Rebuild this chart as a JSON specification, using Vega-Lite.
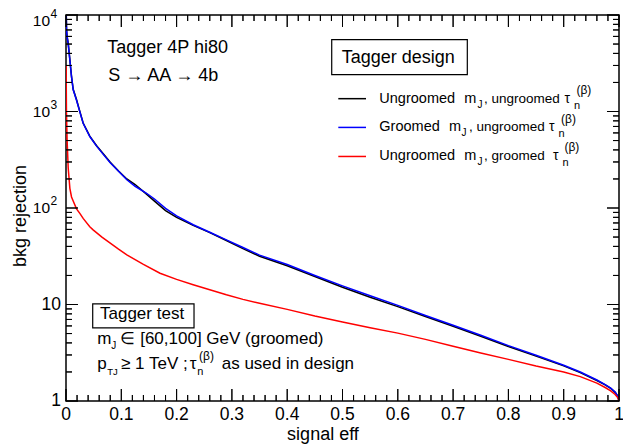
{
"$schema": "https://vega.github.io/schema/vega-lite/v6.json",
"width": 553, "height": 386,
"autosize": "none",
"padding": {"left": 66, "top": 15, "right": 4, "bottom": 47},
"config": {
  "font": "Liberation Sans",
  "view": {"stroke": "black", "strokeWidth": 1.5},
  "text": {"font": "Liberation Sans", "color": "black"},
  "rule": {"color": "black", "strokeWidth": 1},
  "tick": {"color": "black", "opacity": 1, "thickness": 1}
},
"datasets": {
  "xmajor": [{"v":0},{"v":0.1},{"v":0.2},{"v":0.3},{"v":0.4},{"v":0.5},{"v":0.6},{"v":0.7},{"v":0.8},{"v":0.9},{"v":1}],
  "xminor": [{"v":0.02},{"v":0.04},{"v":0.06},{"v":0.08},{"v":0.12},{"v":0.14},{"v":0.16},{"v":0.18},{"v":0.22},{"v":0.24},{"v":0.26},{"v":0.28},{"v":0.32},{"v":0.34},{"v":0.36},{"v":0.38},{"v":0.42},{"v":0.44},{"v":0.46},{"v":0.48},{"v":0.52},{"v":0.54},{"v":0.56},{"v":0.58},{"v":0.62},{"v":0.64},{"v":0.66},{"v":0.68},{"v":0.72},{"v":0.74},{"v":0.76},{"v":0.78},{"v":0.82},{"v":0.84},{"v":0.86},{"v":0.88},{"v":0.92},{"v":0.94},{"v":0.96},{"v":0.98}],
  "ymajor": [{"v":1},{"v":10},{"v":100},{"v":1000},{"v":10000}],
  "yminor": [{"v":2},{"v":3},{"v":4},{"v":5},{"v":6},{"v":7},{"v":8},{"v":9},{"v":20},{"v":30},{"v":40},{"v":50},{"v":60},{"v":70},{"v":80},{"v":90},{"v":200},{"v":300},{"v":400},{"v":500},{"v":600},{"v":700},{"v":800},{"v":900},{"v":2000},{"v":3000},{"v":4000},{"v":5000},{"v":6000},{"v":7000},{"v":8000},{"v":9000}],
  "ylabplain": [{"v":1,"lab":"1"},{"v":10,"lab":"10"}],
  "ylabexp": [{"v":100,"e":"2"},{"v":1000,"e":"3"}],
  "ylabtop": [{"v":10000,"e":"4"}]
},
"data": {"values": [
{"c":"uu","x":0.0005,"y":9800},{"c":"uu","x":0.001,"y":7000},{"c":"uu","x":0.002,"y":6000},{"c":"uu","x":0.004,"y":5100},{"c":"uu","x":0.007,"y":3450},{"c":"uu","x":0.01,"y":2300},{"c":"uu","x":0.013,"y":1700},{"c":"uu","x":0.019,"y":1330},{"c":"uu","x":0.024,"y":1050},{"c":"uu","x":0.031,"y":760},{"c":"uu","x":0.043,"y":555},{"c":"uu","x":0.055,"y":445},{"c":"uu","x":0.07,"y":350},{"c":"uu","x":0.08,"y":298},{"c":"uu","x":0.095,"y":242},{"c":"uu","x":0.11,"y":200},{"c":"uu","x":0.125,"y":175},{"c":"uu","x":0.145,"y":140},{"c":"uu","x":0.16,"y":118},{"c":"uu","x":0.18,"y":94},{"c":"uu","x":0.2,"y":80},{"c":"uu","x":0.23,"y":66},{"c":"uu","x":0.26,"y":55.5},{"c":"uu","x":0.29,"y":46},{"c":"uu","x":0.32,"y":38},{"c":"uu","x":0.35,"y":31.6},{"c":"uu","x":0.4,"y":25.2},{"c":"uu","x":0.45,"y":19.5},{"c":"uu","x":0.5,"y":15.1},{"c":"uu","x":0.55,"y":11.9},{"c":"uu","x":0.6,"y":9.5},{"c":"uu","x":0.65,"y":7.5},{"c":"uu","x":0.7,"y":5.95},{"c":"uu","x":0.75,"y":4.68},{"c":"uu","x":0.8,"y":3.67},{"c":"uu","x":0.85,"y":2.92},{"c":"uu","x":0.9,"y":2.31},{"c":"uu","x":0.93,"y":1.97},{"c":"uu","x":0.96,"y":1.63},{"c":"uu","x":0.975,"y":1.47},{"c":"uu","x":0.985,"y":1.35},{"c":"uu","x":0.993,"y":1.23},{"c":"uu","x":0.998,"y":1.12},{"c":"uu","x":1,"y":1},
{"c":"gu","x":0.0005,"y":9800},{"c":"gu","x":0.001,"y":7000},{"c":"gu","x":0.002,"y":5900},{"c":"gu","x":0.004,"y":5000},{"c":"gu","x":0.007,"y":3400},{"c":"gu","x":0.01,"y":2280},{"c":"gu","x":0.013,"y":1680},{"c":"gu","x":0.019,"y":1310},{"c":"gu","x":0.024,"y":1040},{"c":"gu","x":0.031,"y":755},{"c":"gu","x":0.043,"y":550},{"c":"gu","x":0.055,"y":440},{"c":"gu","x":0.07,"y":345},{"c":"gu","x":0.08,"y":295},{"c":"gu","x":0.095,"y":240},{"c":"gu","x":0.11,"y":196},{"c":"gu","x":0.125,"y":168},{"c":"gu","x":0.145,"y":143},{"c":"gu","x":0.16,"y":124},{"c":"gu","x":0.18,"y":99},{"c":"gu","x":0.2,"y":83},{"c":"gu","x":0.23,"y":67},{"c":"gu","x":0.26,"y":56},{"c":"gu","x":0.29,"y":46.8},{"c":"gu","x":0.32,"y":39},{"c":"gu","x":0.35,"y":32.5},{"c":"gu","x":0.4,"y":26},{"c":"gu","x":0.45,"y":20},{"c":"gu","x":0.5,"y":15.6},{"c":"gu","x":0.55,"y":12.3},{"c":"gu","x":0.6,"y":9.8},{"c":"gu","x":0.65,"y":7.7},{"c":"gu","x":0.7,"y":6.1},{"c":"gu","x":0.75,"y":4.8},{"c":"gu","x":0.8,"y":3.75},{"c":"gu","x":0.85,"y":2.98},{"c":"gu","x":0.9,"y":2.35},{"c":"gu","x":0.93,"y":2.0},{"c":"gu","x":0.96,"y":1.65},{"c":"gu","x":0.975,"y":1.48},{"c":"gu","x":0.985,"y":1.36},{"c":"gu","x":0.993,"y":1.24},{"c":"gu","x":0.998,"y":1.12},{"c":"gu","x":1,"y":1},
{"c":"ug","x":0.0002,"y":3000},{"c":"ug","x":0.0008,"y":1000},{"c":"ug","x":0.002,"y":500},{"c":"ug","x":0.004,"y":260},{"c":"ug","x":0.007,"y":160},{"c":"ug","x":0.01,"y":130},{"c":"ug","x":0.013,"y":118},{"c":"ug","x":0.019,"y":98},{"c":"ug","x":0.025,"y":88},{"c":"ug","x":0.031,"y":78},{"c":"ug","x":0.043,"y":64},{"c":"ug","x":0.049,"y":59.4},{"c":"ug","x":0.065,"y":50},{"c":"ug","x":0.08,"y":43.3},{"c":"ug","x":0.095,"y":37.5},{"c":"ug","x":0.11,"y":32.7},{"c":"ug","x":0.14,"y":26},{"c":"ug","x":0.17,"y":21.1},{"c":"ug","x":0.2,"y":18.2},{"c":"ug","x":0.23,"y":16},{"c":"ug","x":0.26,"y":14.2},{"c":"ug","x":0.29,"y":12.6},{"c":"ug","x":0.32,"y":11.3},{"c":"ug","x":0.35,"y":10.3},{"c":"ug","x":0.4,"y":8.9},{"c":"ug","x":0.45,"y":7.6},{"c":"ug","x":0.5,"y":6.6},{"c":"ug","x":0.55,"y":5.75},{"c":"ug","x":0.6,"y":5.05},{"c":"ug","x":0.65,"y":4.35},{"c":"ug","x":0.7,"y":3.7},{"c":"ug","x":0.75,"y":3.15},{"c":"ug","x":0.8,"y":2.7},{"c":"ug","x":0.85,"y":2.3},{"c":"ug","x":0.9,"y":2.0},{"c":"ug","x":0.93,"y":1.79},{"c":"ug","x":0.96,"y":1.53},{"c":"ug","x":0.975,"y":1.38},{"c":"ug","x":0.985,"y":1.27},{"c":"ug","x":0.993,"y":1.17},{"c":"ug","x":0.998,"y":1.08},{"c":"ug","x":1,"y":1}
]},
"layer": [
{"mark": {"type": "line", "strokeWidth": 1.5, "clip": true},
 "encoding": {
  "x": {"field": "x", "type": "quantitative", "title": "signal eff", "scale": {"domain": [0, 1], "nice": false, "zero": false}, "axis": null},
  "y": {"field": "y", "type": "quantitative", "title": "bkg rejection", "scale": {"type": "log", "domain": [1, 10000], "nice": false}, "axis": null},
  "color": {"field": "c", "type": "nominal", "scale": {"domain": ["uu","gu","ug"], "range": ["#000000","#0000ff","#ff0000"]}, "legend": null}
 }},
{"data": {"name": "xmajor"}, "mark": {"type": "tick", "orient": "vertical", "size": 12},
 "encoding": {"x": {"field": "v", "type": "quantitative", "axis": null}, "y": {"datum": 1.154, "type": "quantitative", "axis": null}}},
{"data": {"name": "xmajor"}, "mark": {"type": "tick", "orient": "vertical", "size": 12},
 "encoding": {"x": {"field": "v", "type": "quantitative", "axis": null}, "y": {"datum": 8665, "type": "quantitative", "axis": null}}},
{"data": {"name": "xminor"}, "mark": {"type": "tick", "orient": "vertical", "size": 6},
 "encoding": {"x": {"field": "v", "type": "quantitative", "axis": null}, "y": {"datum": 1.074, "type": "quantitative", "axis": null}}},
{"data": {"name": "xminor"}, "mark": {"type": "tick", "orient": "vertical", "size": 6},
 "encoding": {"x": {"field": "v", "type": "quantitative", "axis": null}, "y": {"datum": 9309, "type": "quantitative", "axis": null}}},
{"data": {"name": "ymajor"}, "mark": {"type": "tick", "orient": "horizontal", "size": 12},
 "encoding": {"y": {"field": "v", "type": "quantitative", "axis": null}, "x": {"datum": 0.01085, "type": "quantitative", "axis": null}}},
{"data": {"name": "ymajor"}, "mark": {"type": "tick", "orient": "horizontal", "size": 12},
 "encoding": {"y": {"field": "v", "type": "quantitative", "axis": null}, "x": {"datum": 0.98915, "type": "quantitative", "axis": null}}},
{"data": {"name": "yminor"}, "mark": {"type": "tick", "orient": "horizontal", "size": 6},
 "encoding": {"y": {"field": "v", "type": "quantitative", "axis": null}, "x": {"datum": 0.00542, "type": "quantitative", "axis": null}}},
{"data": {"name": "yminor"}, "mark": {"type": "tick", "orient": "horizontal", "size": 6},
 "encoding": {"y": {"field": "v", "type": "quantitative", "axis": null}, "x": {"datum": 0.99458, "type": "quantitative", "axis": null}}},
{"data": {"name": "xmajor"}, "mark": "rule", "encoding": {"x": {"field": "v", "type": "quantitative", "axis": null}, "y": {"datum": 1, "type": "quantitative", "axis": null}, "y2": {"datum": 1.331}}},
{"data": {"name": "xmajor"}, "mark": "rule", "encoding": {"x": {"field": "v", "type": "quantitative", "axis": null}, "y": {"datum": 10000, "type": "quantitative", "axis": null}, "y2": {"datum": 7509}}},
{"data": {"name": "xminor"}, "mark": "rule", "encoding": {"x": {"field": "v", "type": "quantitative", "axis": null}, "y": {"datum": 1, "type": "quantitative", "axis": null}, "y2": {"datum": 1.154}}},
{"data": {"name": "xminor"}, "mark": "rule", "encoding": {"x": {"field": "v", "type": "quantitative", "axis": null}, "y": {"datum": 10000, "type": "quantitative", "axis": null}, "y2": {"datum": 8665}}},
{"data": {"name": "ymajor"}, "mark": "rule", "encoding": {"y": {"field": "v", "type": "quantitative", "axis": null}, "x": {"datum": 0, "type": "quantitative", "axis": null}, "x2": {"datum": 0.0217}}},
{"data": {"name": "ymajor"}, "mark": "rule", "encoding": {"y": {"field": "v", "type": "quantitative", "axis": null}, "x": {"datum": 1, "type": "quantitative", "axis": null}, "x2": {"datum": 0.9783}}},
{"data": {"name": "yminor"}, "mark": "rule", "encoding": {"y": {"field": "v", "type": "quantitative", "axis": null}, "x": {"datum": 0, "type": "quantitative", "axis": null}, "x2": {"datum": 0.0108}}},
{"data": {"name": "yminor"}, "mark": "rule", "encoding": {"y": {"field": "v", "type": "quantitative", "axis": null}, "x": {"datum": 1, "type": "quantitative", "axis": null}, "x2": {"datum": 0.9892}}},

{"data": {"name": "xmajor"}, "mark": {"type": "text", "align": "center", "baseline": "alphabetic", "fontSize": 17.5},
 "encoding": {"x": {"field": "v", "type": "quantitative", "axis": null}, "y": {"datum": 0.628, "type": "quantitative", "axis": null}, "text": {"field": "v", "type": "quantitative", "format": "~g"}}},
{"data": {"name": "ylabplain"}, "mark": {"type": "text", "align": "right", "baseline": "middle", "fontSize": 17.5},
 "encoding": {"y": {"field": "v", "type": "quantitative", "axis": null}, "x": {"datum": -0.009, "type": "quantitative", "axis": null}, "text": {"field": "lab"}}},
{"data": {"name": "ylabexp"}, "mark": {"type": "text", "align": "right", "baseline": "middle", "fontSize": 15.5},
 "encoding": {"y": {"field": "v", "type": "quantitative", "axis": null}, "x": {"datum": -0.0289, "type": "quantitative", "axis": null}, "text": {"value": "10"}}},
{"data": {"name": "ylabexp"}, "mark": {"type": "text", "align": "left", "baseline": "middle", "fontSize": 12, "dx": 0.5, "dy": -7},
 "encoding": {"y": {"field": "v", "type": "quantitative", "axis": null}, "x": {"datum": -0.0289, "type": "quantitative", "axis": null}, "text": {"field": "e"}}},
{"data": {"name": "ylabtop"}, "mark": {"type": "text", "align": "right", "baseline": "middle", "fontSize": 15.5, "dy": 6},
 "encoding": {"y": {"field": "v", "type": "quantitative", "axis": null}, "x": {"datum": -0.0289, "type": "quantitative", "axis": null}, "text": {"value": "10"}}},
{"data": {"name": "ylabtop"}, "mark": {"type": "text", "align": "left", "baseline": "middle", "fontSize": 12, "dx": 0.5, "dy": -1},
 "encoding": {"y": {"field": "v", "type": "quantitative", "axis": null}, "x": {"datum": -0.0289, "type": "quantitative", "axis": null}, "text": {"field": "e"}}},
{"data": {"values": [{"t": "signal eff"}]}, "mark": {"type": "text", "align": "center", "baseline": "alphabetic", "fontSize": 18},
 "encoding": {"x": {"datum": 0.4647, "type": "quantitative", "axis": null}, "y": {"datum": 0.3944, "type": "quantitative", "axis": null}, "text": {"field": "t"}}},
{"data": {"values": [{"t": "bkg rejection"}]}, "mark": {"type": "text", "align": "center", "baseline": "alphabetic", "fontSize": 18, "angle": 270},
 "encoding": {"x": {"datum": -0.0727, "type": "quantitative", "axis": null}, "y": {"datum": 82.6, "type": "quantitative", "axis": null}, "text": {"field": "t"}}},

{"data": {"values": [{"t": "Tagger 4P hi80"}]}, "mark": {"type": "text", "align": "left", "baseline": "alphabetic", "fontSize": 18},
 "encoding": {"x": {"datum": 0.0747, "type": "quantitative", "axis": null}, "y": {"datum": 4045, "type": "quantitative", "axis": null}, "text": {"field": "t"}}},
{"data": {"values": [{"t": "S → AA → 4b"}]}, "mark": {"type": "text", "align": "left", "baseline": "alphabetic", "fontSize": 18},
 "encoding": {"x": {"datum": 0.0765, "type": "quantitative", "axis": null}, "y": {"datum": 2087, "type": "quantitative", "axis": null}, "text": {"field": "t"}}},
{"data": {"values": [{"t": "box"}]}, "mark": {"type": "rect", "fill": "white", "fillOpacity": 0, "stroke": "black", "strokeWidth": 1.2},
 "encoding": {"x": {"datum": 0.4805, "type": "quantitative", "axis": null}, "x2": {"datum": 0.7257}, "y": {"datum": 5555, "type": "quantitative", "axis": null}, "y2": {"datum": 2408}}},
{"data": {"values": [{"t": "Tagger design"}]}, "mark": {"type": "text", "align": "left", "baseline": "alphabetic", "fontSize": 18},
 "encoding": {"x": {"datum": 0.4986, "type": "quantitative", "axis": null}, "y": {"datum": 3185, "type": "quantitative", "axis": null}, "text": {"field": "t"}}},
{"data": {"values": [{"t": "uu"}]}, "mark": {"type": "rule", "color": "#000000", "strokeWidth": 1.5},
 "encoding": {"x": {"datum": 0.4924, "type": "quantitative", "axis": null}, "x2": {"datum": 0.5425}, "y": {"datum": 1358, "type": "quantitative", "axis": null}}},
{"data": {"values": [{"t": "gu"}]}, "mark": {"type": "rule", "color": "#0000ff", "strokeWidth": 1.5},
 "encoding": {"x": {"datum": 0.4924, "type": "quantitative", "axis": null}, "x2": {"datum": 0.5425}, "y": {"datum": 684, "type": "quantitative", "axis": null}}},
{"data": {"values": [{"t": "ug"}]}, "mark": {"type": "rule", "color": "#ff0000", "strokeWidth": 1.5},
 "encoding": {"x": {"datum": 0.4924, "type": "quantitative", "axis": null}, "x2": {"datum": 0.5425}, "y": {"datum": 342, "type": "quantitative", "axis": null}}},

{"data": {"values": [{"t": "Ungroomed"}]}, "mark": {"type": "text", "align": "left", "baseline": "alphabetic", "fontSize": 14.5},
 "encoding": {"x": {"datum": 0.5666, "type": "quantitative", "axis": null}, "y": {"datum": 1225, "type": "quantitative", "axis": null}, "text": {"field": "t"}}},
{"data": {"values": [{"t": "m"}]}, "mark": {"type": "text", "align": "left", "baseline": "alphabetic", "fontSize": 14.5},
 "encoding": {"x": {"datum": 0.7203, "type": "quantitative", "axis": null}, "y": {"datum": 1225, "type": "quantitative", "axis": null}, "text": {"field": "t"}}},
{"data": {"values": [{"t": "J"}]}, "mark": {"type": "text", "align": "left", "baseline": "alphabetic", "fontSize": 10, "dy": 5},
 "encoding": {"x": {"datum": 0.7441, "type": "quantitative", "axis": null}, "y": {"datum": 1225, "type": "quantitative", "axis": null}, "text": {"field": "t"}}},
{"data": {"values": [{"t": ", ungroomed"}]}, "mark": {"type": "text", "align": "left", "baseline": "alphabetic", "fontSize": 13.5},
 "encoding": {"x": {"datum": 0.7559, "type": "quantitative", "axis": null}, "y": {"datum": 1225, "type": "quantitative", "axis": null}, "text": {"field": "t"}}},
{"data": {"values": [{"t": "τ"}]}, "mark": {"type": "text", "align": "left", "baseline": "alphabetic", "fontSize": 14},
 "encoding": {"x": {"datum": 0.9014, "type": "quantitative", "axis": null}, "y": {"datum": 1225, "type": "quantitative", "axis": null}, "text": {"field": "t"}}},
{"data": {"values": [{"t": "n"}]}, "mark": {"type": "text", "align": "left", "baseline": "alphabetic", "fontSize": 11, "dy": 6},
 "encoding": {"x": {"datum": 0.9186, "type": "quantitative", "axis": null}, "y": {"datum": 1225, "type": "quantitative", "axis": null}, "text": {"field": "t"}}},
{"data": {"values": [{"t": "(β)"}]}, "mark": {"type": "text", "align": "left", "baseline": "alphabetic", "fontSize": 12, "dy": -8.5},
 "encoding": {"x": {"datum": 0.9231, "type": "quantitative", "axis": null}, "y": {"datum": 1225, "type": "quantitative", "axis": null}, "text": {"field": "t"}}},

{"data": {"values": [{"t": "Groomed"}]}, "mark": {"type": "text", "align": "left", "baseline": "alphabetic", "fontSize": 14.5},
 "encoding": {"x": {"datum": 0.5666, "type": "quantitative", "axis": null}, "y": {"datum": 622, "type": "quantitative", "axis": null}, "text": {"field": "t"}}},
{"data": {"values": [{"t": "m"}]}, "mark": {"type": "text", "align": "left", "baseline": "alphabetic", "fontSize": 14.5},
 "encoding": {"x": {"datum": 0.6926, "type": "quantitative", "axis": null}, "y": {"datum": 622, "type": "quantitative", "axis": null}, "text": {"field": "t"}}},
{"data": {"values": [{"t": "J"}]}, "mark": {"type": "text", "align": "left", "baseline": "alphabetic", "fontSize": 10, "dy": 5},
 "encoding": {"x": {"datum": 0.7152, "type": "quantitative", "axis": null}, "y": {"datum": 622, "type": "quantitative", "axis": null}, "text": {"field": "t"}}},
{"data": {"values": [{"t": ", ungroomed"}]}, "mark": {"type": "text", "align": "left", "baseline": "alphabetic", "fontSize": 13.5},
 "encoding": {"x": {"datum": 0.7288, "type": "quantitative", "axis": null}, "y": {"datum": 622, "type": "quantitative", "axis": null}, "text": {"field": "t"}}},
{"data": {"values": [{"t": "τ"}]}, "mark": {"type": "text", "align": "left", "baseline": "alphabetic", "fontSize": 14},
 "encoding": {"x": {"datum": 0.8735, "type": "quantitative", "axis": null}, "y": {"datum": 622, "type": "quantitative", "axis": null}, "text": {"field": "t"}}},
{"data": {"values": [{"t": "n"}]}, "mark": {"type": "text", "align": "left", "baseline": "alphabetic", "fontSize": 11, "dy": 6},
 "encoding": {"x": {"datum": 0.8907, "type": "quantitative", "axis": null}, "y": {"datum": 622, "type": "quantitative", "axis": null}, "text": {"field": "t"}}},
{"data": {"values": [{"t": "(β)"}]}, "mark": {"type": "text", "align": "left", "baseline": "alphabetic", "fontSize": 12, "dy": -8.5},
 "encoding": {"x": {"datum": 0.8952, "type": "quantitative", "axis": null}, "y": {"datum": 622, "type": "quantitative", "axis": null}, "text": {"field": "t"}}},

{"data": {"values": [{"t": "Ungroomed"}]}, "mark": {"type": "text", "align": "left", "baseline": "alphabetic", "fontSize": 14.5},
 "encoding": {"x": {"datum": 0.5666, "type": "quantitative", "axis": null}, "y": {"datum": 316, "type": "quantitative", "axis": null}, "text": {"field": "t"}}},
{"data": {"values": [{"t": "m"}]}, "mark": {"type": "text", "align": "left", "baseline": "alphabetic", "fontSize": 14.5},
 "encoding": {"x": {"datum": 0.7203, "type": "quantitative", "axis": null}, "y": {"datum": 316, "type": "quantitative", "axis": null}, "text": {"field": "t"}}},
{"data": {"values": [{"t": "J"}]}, "mark": {"type": "text", "align": "left", "baseline": "alphabetic", "fontSize": 10, "dy": 5},
 "encoding": {"x": {"datum": 0.7441, "type": "quantitative", "axis": null}, "y": {"datum": 316, "type": "quantitative", "axis": null}, "text": {"field": "t"}}},
{"data": {"values": [{"t": ", groomed"}]}, "mark": {"type": "text", "align": "left", "baseline": "alphabetic", "fontSize": 13.5},
 "encoding": {"x": {"datum": 0.7559, "type": "quantitative", "axis": null}, "y": {"datum": 316, "type": "quantitative", "axis": null}, "text": {"field": "t"}}},
{"data": {"values": [{"t": "τ"}]}, "mark": {"type": "text", "align": "left", "baseline": "alphabetic", "fontSize": 14},
 "encoding": {"x": {"datum": 0.8807, "type": "quantitative", "axis": null}, "y": {"datum": 316, "type": "quantitative", "axis": null}, "text": {"field": "t"}}},
{"data": {"values": [{"t": "n"}]}, "mark": {"type": "text", "align": "left", "baseline": "alphabetic", "fontSize": 11, "dy": 6},
 "encoding": {"x": {"datum": 0.8979, "type": "quantitative", "axis": null}, "y": {"datum": 316, "type": "quantitative", "axis": null}, "text": {"field": "t"}}},
{"data": {"values": [{"t": "(β)"}]}, "mark": {"type": "text", "align": "left", "baseline": "alphabetic", "fontSize": 12, "dy": -8.5},
 "encoding": {"x": {"datum": 0.9014, "type": "quantitative", "axis": null}, "y": {"datum": 316, "type": "quantitative", "axis": null}, "text": {"field": "t"}}},

{"data": {"values": [{"t": "box"}]}, "mark": {"type": "rect", "fill": "white", "fillOpacity": 0, "stroke": "black", "strokeWidth": 1.2},
 "encoding": {"x": {"datum": 0.0483, "type": "quantitative", "axis": null}, "x2": {"datum": 0.2315}, "y": {"datum": 10.15, "type": "quantitative", "axis": null}, "y2": {"datum": 5.72}}},
{"data": {"values": [{"t": "Tagger test"}]}, "mark": {"type": "text", "align": "left", "baseline": "alphabetic", "fontSize": 17},
 "encoding": {"x": {"datum": 0.0615, "type": "quantitative", "axis": null}, "y": {"datum": 7.04, "type": "quantitative", "axis": null}, "text": {"field": "t"}}},
{"data": {"values": [{"t": "m"}]}, "mark": {"type": "text", "align": "left", "baseline": "alphabetic", "fontSize": 17},
 "encoding": {"x": {"datum": 0.0566, "type": "quantitative", "axis": null}, "y": {"datum": 3.902, "type": "quantitative", "axis": null}, "text": {"field": "t"}}},
{"data": {"values": [{"t": "J"}]}, "mark": {"type": "text", "align": "left", "baseline": "alphabetic", "fontSize": 10, "dy": 5},
 "encoding": {"x": {"datum": 0.0818, "type": "quantitative", "axis": null}, "y": {"datum": 3.902, "type": "quantitative", "axis": null}, "text": {"field": "t"}}},
{"data": {"values": [{"t": "∈ [60,100] GeV (groomed)"}]}, "mark": {"type": "text", "align": "left", "baseline": "alphabetic", "fontSize": 17},
 "encoding": {"x": {"datum": 0.0985, "type": "quantitative", "axis": null}, "y": {"datum": 3.902, "type": "quantitative", "axis": null}, "text": {"field": "t"}}},
{"data": {"values": [{"t": "p"}]}, "mark": {"type": "text", "align": "left", "baseline": "alphabetic", "fontSize": 17},
 "encoding": {"x": {"datum": 0.0566, "type": "quantitative", "axis": null}, "y": {"datum": 2.148, "type": "quantitative", "axis": null}, "text": {"field": "t"}}},
{"data": {"values": [{"t": "TJ"}]}, "mark": {"type": "text", "align": "left", "baseline": "alphabetic", "fontSize": 9.5, "dy": 6},
 "encoding": {"x": {"datum": 0.0747, "type": "quantitative", "axis": null}, "y": {"datum": 2.148, "type": "quantitative", "axis": null}, "text": {"field": "t"}}},
{"data": {"values": [{"t": "≥ 1 TeV ;"}]}, "mark": {"type": "text", "align": "left", "baseline": "alphabetic", "fontSize": 17},
 "encoding": {"x": {"datum": 0.0995, "type": "quantitative", "axis": null}, "y": {"datum": 2.148, "type": "quantitative", "axis": null}, "text": {"field": "t"}}},
{"data": {"values": [{"t": "τ"}]}, "mark": {"type": "text", "align": "left", "baseline": "alphabetic", "fontSize": 17},
 "encoding": {"x": {"datum": 0.2237, "type": "quantitative", "axis": null}, "y": {"datum": 2.148, "type": "quantitative", "axis": null}, "text": {"field": "t"}}},
{"data": {"values": [{"t": "n"}]}, "mark": {"type": "text", "align": "left", "baseline": "alphabetic", "fontSize": 11, "dy": 6},
 "encoding": {"x": {"datum": 0.2375, "type": "quantitative", "axis": null}, "y": {"datum": 2.148, "type": "quantitative", "axis": null}, "text": {"field": "t"}}},
{"data": {"values": [{"t": "(β)"}]}, "mark": {"type": "text", "align": "left", "baseline": "alphabetic", "fontSize": 12, "dy": -9},
 "encoding": {"x": {"datum": 0.2405, "type": "quantitative", "axis": null}, "y": {"datum": 2.148, "type": "quantitative", "axis": null}, "text": {"field": "t"}}},
{"data": {"values": [{"t": "as used in design"}]}, "mark": {"type": "text", "align": "left", "baseline": "alphabetic", "fontSize": 17},
 "encoding": {"x": {"datum": 0.2816, "type": "quantitative", "axis": null}, "y": {"datum": 2.148, "type": "quantitative", "axis": null}, "text": {"field": "t"}}}
]
}
